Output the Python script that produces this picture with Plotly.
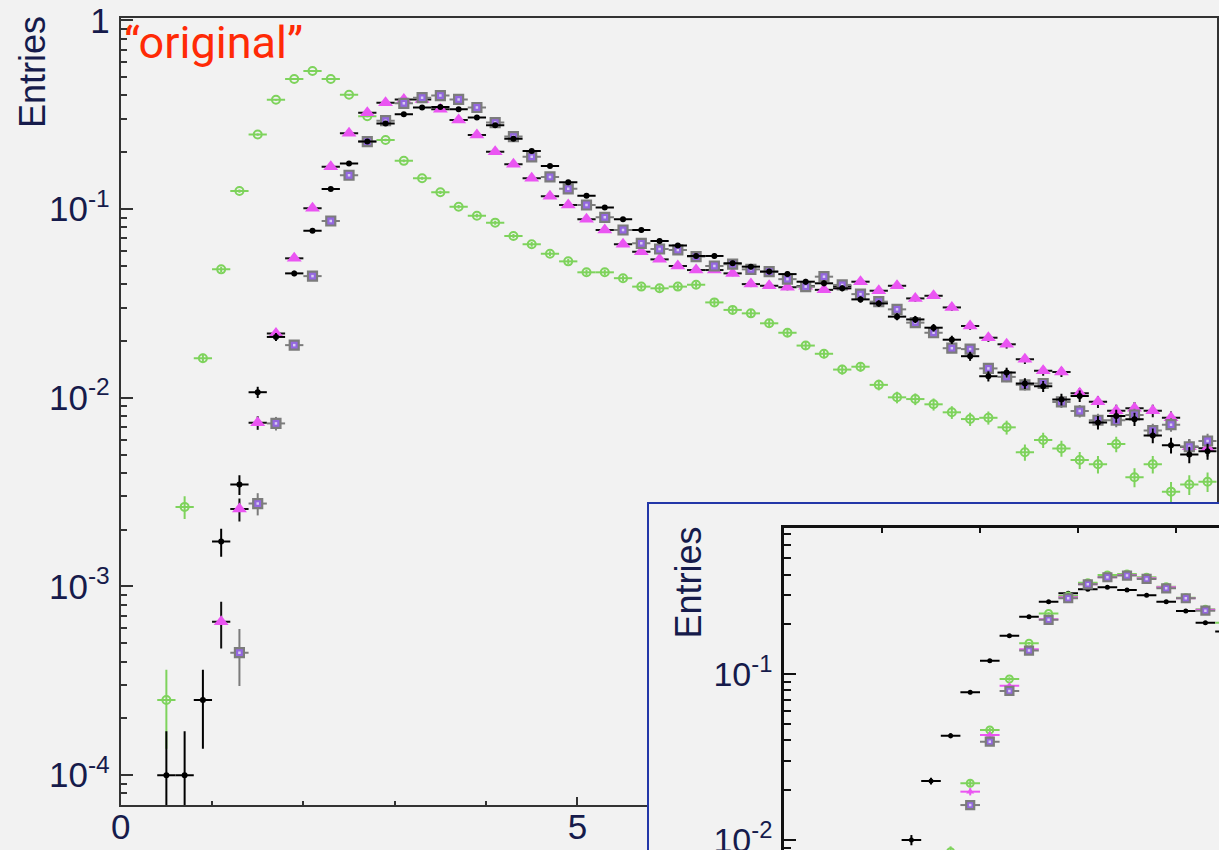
import numpy as np
import plotly.graph_objects as go

# ---------------------------------------------------------------------------
# Histogram contents (normalised entries per 0.2-wide bin)
# ---------------------------------------------------------------------------
BIN_HALF = 0.1

# main panel
x_green = np.round(np.arange(0.5, 11.95, 0.2), 1)
y_green = [0.00025, 0.00264, 0.0162, 0.0479, 0.1245, 0.248, 0.379, 0.489, 0.539, 0.489, 0.403, 0.31, 0.232,
           0.180, 0.1455, 0.1226, 0.1028, 0.0922, 0.0847, 0.0719, 0.065, 0.058, 0.0528, 0.0462, 0.0462,
           0.043, 0.0388, 0.038, 0.0388, 0.0397, 0.032, 0.0292, 0.028, 0.0248, 0.0221, 0.0189,
           0.0171, 0.0141, 0.0146, 0.0117, 0.01005, 0.00984, 0.00923, 0.00837, 0.00771, 0.00783, 0.00697,
           0.00514, 0.00597, 0.00539, 0.00468, 0.00444, 0.00568, 0.00379, 0.00444, 0.00318, 0.00347, 0.00359]

x_black = np.round(np.arange(0.5, 11.95, 0.2), 1)
y_black = [1.0e-4, 1.0e-4, 0.00025, 0.00173, 0.00347, 0.0107, 0.0210, 0.0456, 0.0767, 0.1277, 0.174, 0.228, 0.284,
           0.318, 0.345, 0.3475, 0.3375, 0.305, 0.278, 0.236, 0.203, 0.169, 0.1385, 0.1176, 0.102,
           0.0882, 0.0774, 0.0677, 0.064, 0.0564, 0.0564, 0.0516, 0.0495, 0.0466, 0.0452, 0.0412,
           0.0404, 0.038, 0.0332, 0.0316, 0.0269, 0.026, 0.0235, 0.0203, 0.0166, 0.0130, 0.0136,
           0.0119, 0.0115, 0.0098, 0.0102, 0.0074, 0.0080, 0.0077, 0.0063, 0.0056, 0.0050, 0.0052]

x_magenta = np.round(np.arange(1.1, 11.95, 0.2), 1)
y_magenta = [0.00065, 0.00257, 0.00737, 0.0219, 0.0548, 0.1008, 0.1675, 0.252, 0.324, 0.366,
             0.381, 0.381, 0.3375, 0.296, 0.247, 0.201, 0.1725, 0.1455, 0.117, 0.105, 0.0882, 0.0774,
             0.065, 0.0594, 0.0541, 0.0499, 0.0475, 0.0475, 0.0456, 0.040, 0.0392, 0.0385, 0.0390,
             0.0373, 0.0390, 0.0412, 0.0369, 0.0392, 0.0336, 0.0347, 0.0301, 0.0240, 0.0208, 0.0192,
             0.0160, 0.0139, 0.0137, 0.01055, 0.00952, 0.00854, 0.00879, 0.00854, 0.00783, 0.0055, 0.0054]

x_square = np.round(np.arange(1.3, 11.95, 0.2), 1)
y_square = [0.000446, 0.00275, 0.00731, 0.019, 0.0441, 0.0864, 0.151, 0.2276, 0.294,
            0.363, 0.389, 0.399, 0.381, 0.345, 0.287, 0.242, 0.189, 0.148, 0.128, 0.105, 0.0904,
            0.0774, 0.0658, 0.0614, 0.0607, 0.056, 0.0499, 0.051, 0.0479, 0.0466, 0.0425, 0.0388,
            0.0438, 0.0396, 0.0354, 0.0323, 0.0294, 0.0250, 0.0221, 0.0183, 0.0181, 0.0143, 0.0129,
            0.0117, 0.0119, 0.0095, 0.0085, 0.0076, 0.0076, 0.0081, 0.0067, 0.0072, 0.0055, 0.0059]

# inset panel
xi_black = np.round(np.arange(1.3, 4.55, 0.2), 1)
yi_black = [0.0100, 0.0227, 0.0426, 0.0778, 0.1208, 0.171, 0.2226, 0.2742, 0.308, 0.326, 0.335,
            0.323, 0.2997, 0.2742, 0.241, 0.2048, 0.181]
xi_green = np.round(np.arange(1.7, 4.55, 0.2), 1)
yi_green = [0.0085, 0.022, 0.0461, 0.0937, 0.154, 0.233, 0.297, 0.357, 0.398, 0.403, 0.385,
            0.338, 0.29, 0.2466, 0.205]
xi_magenta = np.round(np.arange(1.9, 4.35, 0.2), 1)
yi_magenta = [0.01957, 0.043, 0.0853, 0.1416, 0.2147, 0.2916, 0.35, 0.385, 0.398, 0.38, 0.335, 0.288, 0.245]
xi_square = np.round(np.arange(1.9, 4.35, 0.2), 1)
yi_square = [0.01625, 0.0392, 0.0794, 0.139, 0.213, 0.2876, 0.349, 0.385, 0.394, 0.376, 0.33, 0.2876, 0.242]

# tick labels
main_y_tickvals = [1e-4, 1e-3, 1e-2, 1e-1, 1]
main_y_ticktext = ["10<sup>-4</sup>", "10<sup>-3</sup>", "10<sup>-2</sup>", "10<sup>-1</sup>", "1"]
main_x_tickvals = [0, 5]
main_x_ticktext = ["0", "5"]
inset_y_tickvals = [1e-2, 1e-1]
inset_y_ticktext = ["10<sup>-2</sup>", "10<sup>-1</sup>"]

# weight of a single entry: bin uncertainty is sqrt(N) entries
ENTRY_WEIGHT = 5e-5


def stat_err(vals):
    return np.sqrt(np.asarray(vals) * ENTRY_WEIGHT)


W, H = 1219, 850
FONT = "Liberation Sans, Arial, Helvetica, sans-serif"
NAVY = "#161b4b"
BG = "#f2f2f2"

GREEN = "#7ed35c"
MAGENTA = "#ea55f2"
PURPLE = "#9467e0"
GREY = "#7c7c7c"
SQUARE_CORE = "#d9cdf2"


def series(x, y, symbol, size, mcolor, lcolor, lwidth, barcolor, bar_w, xa, ya):
    return go.Scatter(
        x=x, y=y, mode="markers", xaxis=xa, yaxis=ya, showlegend=False,
        marker=dict(symbol=symbol, size=size, color=mcolor,
                    line=dict(color=lcolor, width=lwidth)),
        error_x=dict(type="constant", value=BIN_HALF, width=0, thickness=bar_w, color=barcolor),
        error_y=dict(type="data", array=stat_err(y), width=0, thickness=bar_w, color=barcolor),
    )


def core(x, y, size, xa, ya):
    # light centre of the framed square markers
    return go.Scatter(x=x, y=y, mode="markers", xaxis=xa, yaxis=ya, showlegend=False,
                      marker=dict(symbol="square", size=size, color=SQUARE_CORE, line=dict(width=0)))


fig = go.Figure()

# main panel
fig.add_trace(series(x_green, y_green, "circle-open", 8, GREEN, GREEN, 2, GREEN, 2, "x", "y"))
fig.add_trace(series(x_magenta, y_magenta, "triangle-up", 13, MAGENTA, MAGENTA, 0, "#111111", 2, "x", "y"))
fig.add_trace(series(x_square, y_square, "square", 9, PURPLE, GREY, 2.2, GREY, 2, "x", "y"))
fig.add_trace(core(x_square, y_square, 2.5, "x", "y"))
fig.add_trace(series(x_black, y_black, "circle", 6, "#000000", "#000000", 0, "#000000", 2, "x", "y"))

# empty layer that carries the framed inset background
fig.add_trace(go.Scatter(x=[], y=[], xaxis="x2", yaxis="y2", showlegend=False))

# inset panel
fig.add_trace(series(xi_black, yi_black, "circle", 5, "#000000", "#000000", 0, "#000000", 2, "x3", "y3"))
fig.add_trace(series(xi_green, yi_green, "circle-open", 7, GREEN, GREEN, 2, GREEN, 2, "x3", "y3"))
fig.add_trace(series(xi_magenta, yi_magenta, "triangle-up", 7, MAGENTA, MAGENTA, 0, MAGENTA, 2, "x3", "y3"))
fig.add_trace(series(xi_square, yi_square, "square", 8, PURPLE, GREY, 2.2, GREY, 2, "x3", "y3"))
fig.add_trace(core(xi_square, yi_square, 2.5, "x3", "y3"))

tickfont = dict(family=FONT, size=35, color=NAVY)


def minor_vals(lo_exp, hi_exp):
    return [m * 10.0 ** e for e in range(lo_exp, hi_exp) for m in range(2, 10)]


fig.update_layout(
    width=W, height=H,
    margin=dict(l=0, r=0, t=0, b=0, autoexpand=False),
    paper_bgcolor=BG, plot_bgcolor=BG,
    showlegend=False,
    xaxis=dict(
        domain=[120.7 / W, 1216.7 / W], range=[0, 12], anchor="y", automargin=False,
        showline=True, linecolor="#333333", linewidth=2, mirror=True,
        showgrid=False, zeroline=False,
        tickmode="array", tickvals=main_x_tickvals, ticktext=main_x_ticktext,
        ticks="inside", ticklen=8, tickwidth=1.5, tickcolor="#333333",
        minor=dict(tickvals=list(range(1, 13)), ticks="inside", ticklen=4, tickwidth=1.5, tickcolor="#333333"),
        tickfont=tickfont, ticklabelstandoff=-10,
    ),
    yaxis=dict(
        domain=[1 - 805 / H, 1 - 18.3 / H], type="log", range=[-4.158, 0.0106], anchor="x",
        automargin=False,
        showline=True, linecolor="#333333", linewidth=2, mirror=True,
        showgrid=False, zeroline=False,
        tickmode="array", tickvals=main_y_tickvals, ticktext=main_y_ticktext,
        ticks="inside", ticklen=12, tickwidth=1.5, tickcolor="#333333",
        minor=dict(tickvals=minor_vals(-5, 0), ticks="inside", ticklen=6, tickwidth=1.5, tickcolor="#333333"),
        tickfont=tickfont, ticklabelstandoff=2,
    ),
    # blue-framed backdrop of the inset
    xaxis2=dict(
        domain=[649 / W, 1], range=[0, 1], anchor="y2", side="top", automargin=False,
        showline=True, linecolor="#2337a8", linewidth=2,
        showgrid=False, zeroline=False, ticks="", showticklabels=False,
    ),
    yaxis2=dict(
        domain=[0, 1 - 504 / H], range=[0, 1], anchor="x2", side="left", automargin=False,
        showline=True, linecolor="#2337a8", linewidth=2,
        showgrid=False, zeroline=False, ticks="", showticklabels=False,
    ),
    xaxis3=dict(
        domain=[784 / W, 1], range=[0, 435 / 98], anchor="y3", side="top", automargin=False,
        showline=True, linecolor="#111111", linewidth=2.5,
        showgrid=False, zeroline=False,
        tickmode="array", tickvals=[1, 2, 3, 4], showticklabels=False,
        ticks="inside", ticklen=5, tickwidth=1.5, tickcolor="#111111",
    ),
    yaxis3=dict(
        domain=[0, 1 - 528.3 / H], type="log", range=[-2.0604, -0.119], anchor="x3", automargin=False,
        showline=True, linecolor="#111111", linewidth=2.5,
        showgrid=False, zeroline=False,
        tickmode="array", tickvals=inset_y_tickvals, ticktext=inset_y_ticktext,
        ticks="inside", ticklen=12, tickwidth=1.5, tickcolor="#111111",
        minor=dict(tickvals=minor_vals(-3, 0), ticks="inside", ticklen=7, tickwidth=1.5, tickcolor="#111111"),
        tickfont=dict(family=FONT, size=34, color=NAVY), ticklabelstandoff=2,
        ticklabeloverflow="allow",
    ),
    annotations=[
        dict(text="Entries", x=32 / W, y=1 - 72 / H, xref="paper", yref="paper",
             textangle=-90, showarrow=False, xanchor="center", yanchor="middle",
             font=dict(family=FONT, size=36, color=NAVY)),
        dict(text="Entries", x=688 / W, y=1 - 582.5 / H, xref="paper", yref="paper",
             textangle=-90, showarrow=False, xanchor="center", yanchor="middle",
             font=dict(family=FONT, size=36, color=NAVY)),
        dict(text="\u201coriginal\u201d", x=122 / W, y=1 - 14 / H, xref="paper", yref="paper",
             showarrow=False, xanchor="left", yanchor="top",
             font=dict(family="Roboto, Liberation Sans, sans-serif", size=45, color="#ff2a06")),
    ],
)

fig.write_html("out.html")
